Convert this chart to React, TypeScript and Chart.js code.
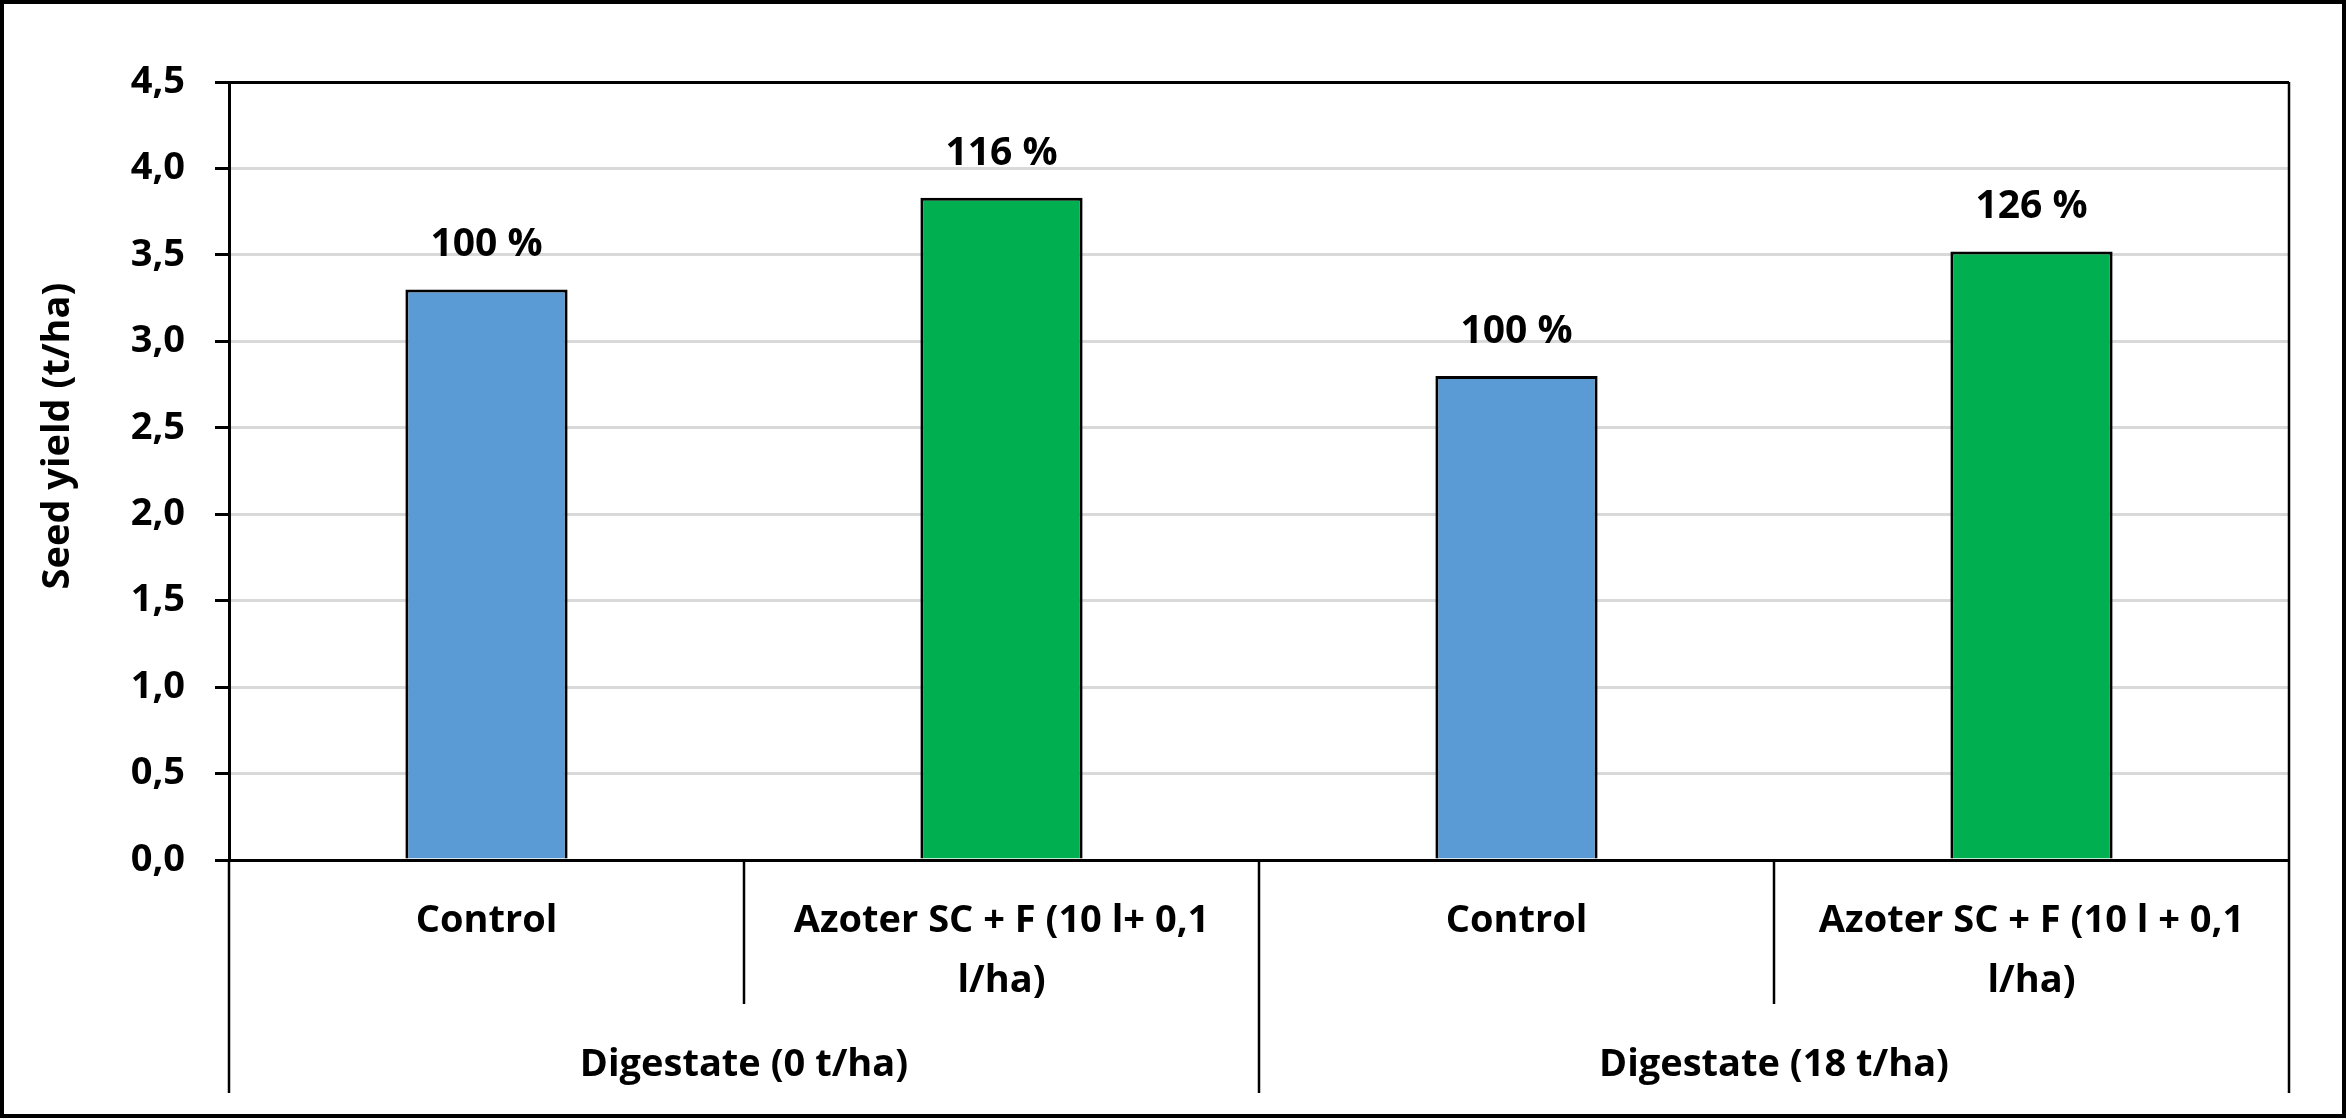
import React, { useEffect, useRef } from 'react';
import { Chart, registerables } from 'chart.js';

Chart.register(...registerables);

// ---- data ----
const categories: string[][] = [
  ['Control'],
  ['Azoter SC + F (10 l+ 0,1', 'l/ha)'],
  ['Control'],
  ['Azoter SC + F (10 l + 0,1', 'l/ha)'],
];
const groups: string[] = ['Digestate (0 t/ha)', 'Digestate (18 t/ha)'];
const seedYield: number[] = [3.3, 3.83, 2.8, 3.52];
const percentLabels: string[] = ['100 %', '116 %', '100 %', '126 %'];
const yTitle = 'Seed yield (t/ha)';
const yMin = 0;
const yMax = 4.5;
const yStep = 0.5;

// ---- styles ----
const W = 2346;
const H = 1118;
const FONT = "'Open Sans', 'Noto Sans', sans-serif";
const BLUE = '#5B9BD5';
const GREEN = '#00B050';

const decor = {
  id: 'decor',
  beforeDraw(chart: any) {
    const { ctx, width, height } = chart;
    ctx.save();
    ctx.fillStyle = '#ffffff';
    ctx.fillRect(0, 0, width, height);
    ctx.restore();
  },
  afterDatasetsDraw(chart: any) {
    const { ctx } = chart;
    const meta = chart.getDatasetMeta(0);
    ctx.save();
    ctx.fillStyle = '#000';
    ctx.font = `bold 39px ${FONT}`;
    ctx.textAlign = 'center';
    ctx.textBaseline = 'alphabetic';
    meta.data.forEach((bar: any, i: number) => {
      ctx.fillText(percentLabels[i], bar.x, bar.y - 33);
    });
    ctx.restore();
  },
  afterDraw(chart: any) {
    const { ctx, chartArea, width, height } = chart;
    const x = chart.scales.x;
    const n = categories.length;
    const cw = (x.right - x.left) / n;
    const per = n / groups.length;
    ctx.save();
    ctx.strokeStyle = '#000';
    ctx.lineCap = 'butt';
    // separators
    ctx.lineWidth = 2.5;
    for (let i = 0; i <= n; i++) {
      const px = x.left + i * cw;
      const major = i % per === 0;
      const y0 = i === n ? chartArea.top : chartArea.bottom;
      const y1 = chartArea.bottom + (major ? 233 : 144);
      ctx.beginPath();
      ctx.moveTo(px, y0);
      ctx.lineTo(px, y1);
      ctx.stroke();
    }
    // group labels
    ctx.fillStyle = '#000';
    ctx.font = `bold 38px ${FONT}`;
    ctx.textAlign = 'center';
    ctx.textBaseline = 'middle';
    groups.forEach((g, gi) => {
      const cx = x.left + (gi * per + per / 2) * cw;
      ctx.fillText(g, cx, chartArea.bottom + 205);
    });
    // y title
    ctx.save();
    ctx.translate(58, 436);
    ctx.rotate(-Math.PI / 2);
    ctx.fillText(yTitle, 0, 0);
    ctx.restore();
    // outer border
    ctx.lineWidth = 4;
    ctx.strokeRect(2, 2, width - 4, height - 4);
    ctx.restore();
  },
};

export default function App() {
  const ref = useRef<HTMLCanvasElement | null>(null);

  useEffect(() => {
    document.body.style.margin = '0';
    const canvas = ref.current;
    if (!canvas) return;
    const chart = new Chart(canvas, {
      type: 'bar',
      data: {
        labels: categories as any,
        datasets: [
          {
            data: seedYield,
            backgroundColor: seedYield.map((_, i) => (i % 2 === 0 ? BLUE : GREEN)),
            borderColor: '#000',
            borderWidth: 3,
            barPercentage: 0.315,
            categoryPercentage: 1.0,
          },
        ],
      },
      options: {
        animation: false,
        responsive: false,
        devicePixelRatio: 1,
        layout: { padding: { top: 82, right: 57, left: 0, bottom: 0 } },
        plugins: {
          legend: { display: false },
          tooltip: { enabled: false },
          title: { display: false },
        },
        scales: {
          x: {
            type: 'category',
            grid: { display: false },
            border: { display: true, color: '#000', width: 3 },
            ticks: {
              color: '#000',
              font: { family: FONT, size: 38, weight: 'bold', lineHeight: 1.58 },
              padding: 23,
              maxRotation: 0,
              minRotation: 0,
              autoSkip: false,
            },
            afterFit: (s: any) => {
              s.height = 258;
            },
          },
          y: {
            min: yMin,
            max: yMax,
            grid: {
              color: (c: any) =>
                c.tick && (c.tick.value === yMax || c.tick.value === yMin) ? '#000' : '#d9d9d9',
              lineWidth: 3,
              tickColor: '#000',
              tickLength: 14,
              drawTicks: true,
            },
            border: { display: true, color: '#000', width: 3 },
            ticks: {
              stepSize: yStep,
              color: '#000',
              padding: 30,
              font: { family: FONT, size: 38, weight: 'bold' },
              callback: (v: any) => Number(v).toFixed(1).replace('.', ','),
            },
            afterFit: (s: any) => {
              s.width = 229;
            },
          },
        },
      },
      plugins: [decor],
    });
    return () => chart.destroy();
  }, []);

  return (
    <div style={{ width: W, height: H }}>
      <canvas ref={ref} width={W} height={H} style={{ display: 'block', width: W, height: H }} />
    </div>
  );
}
